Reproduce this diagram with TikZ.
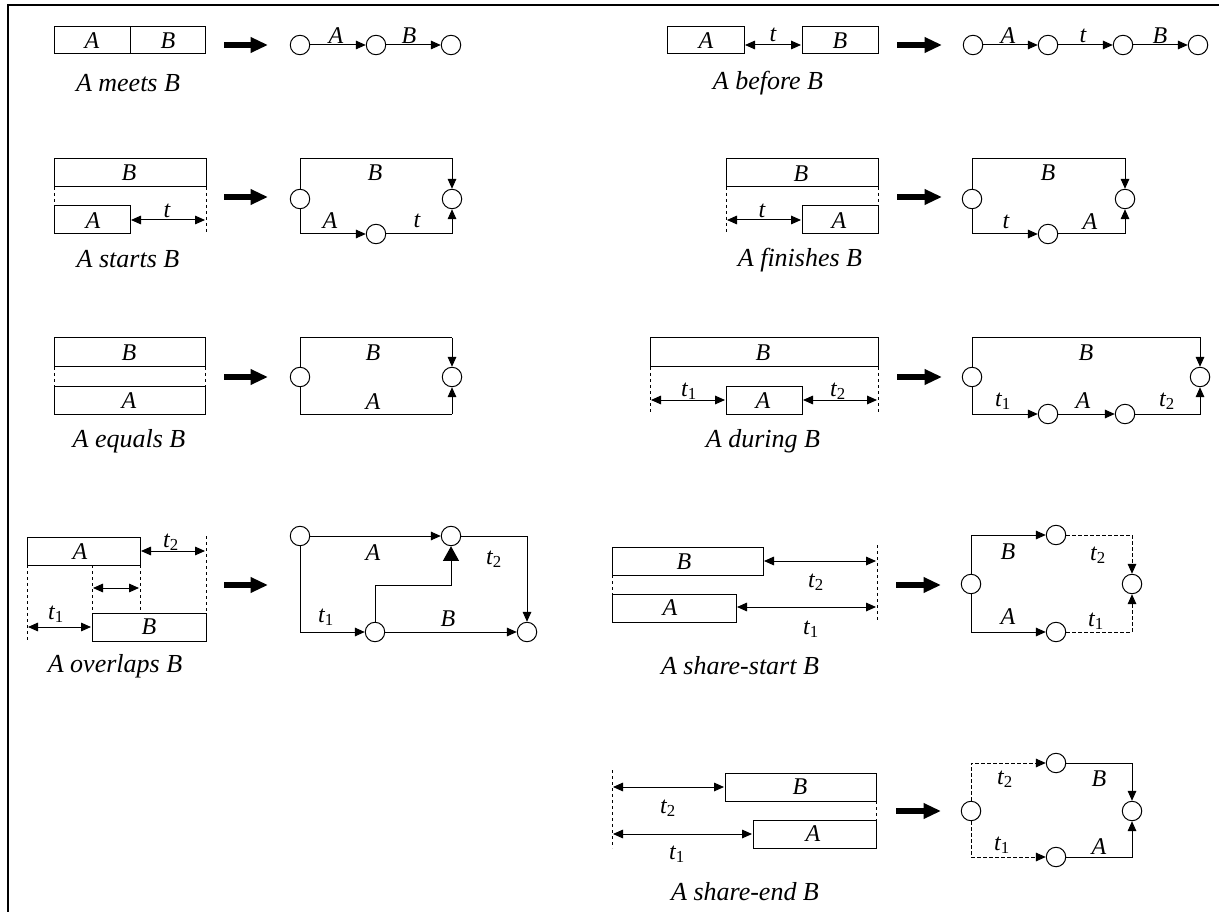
\documentclass[tikz,border=0pt]{standalone}
\usepackage{fontspec}
\setmainfont{Liberation Serif}
\usetikzlibrary{arrows.meta}

\newcommand{\tsub}[1]{\textit{t}\textsubscript{\upshape #1}}

\tikzset{
  ev/.style={circle, draw, minimum size=14.6pt, inner sep=0pt},
  lbl/.style={font=\fontsize{18}{21}\selectfont\itshape, inner sep=0pt},
  captxt/.style={font=\fontsize{19.5}{23}\selectfont\itshape, inner sep=0pt},
  arr/.style={-{Triangle[length=7.5pt,width=6.5pt]}},
  darr/.style={{Triangle[length=7.5pt,width=6.5pt]}-{Triangle[length=7.5pt,width=6.5pt]}},
  bigarr/.style={-{Triangle[length=11pt,width=12pt]}},
  fat/.style={line width=4.5pt, -{Triangle[length=13pt,width=11pt]}},
  vl/.style={dash pattern=on 2.5pt off 2pt},
}

\begin{document}
\begin{tikzpicture}[x=0.75pt, y=-0.75pt, line width=0.75pt]
    \useasboundingbox (0,0) rectangle (1219,912);
    \draw[line width=1.9pt] (8,912) -- (8,5) -- (1219,5); % frame

    % A meets B
    \draw (54,27) rectangle (205,54);
    \draw (130,27) -- (130,54);
    \node[lbl] (mA) at (92,41) {A};
    \node[lbl] (mB) at (168,41) {B};
    \node[captxt] (mcap) at (128,83) {A meets B};
    \draw[fat] (224,45) -- (268,45);
    \node[ev] (m1) at (300,45) {};
    \node[ev] (m2) at (376,45) {};
    \node[ev] (m3) at (451,45) {};
    \draw[arr] (m1) -- (m2);
    \draw[arr] (m2) -- (m3);
    \node[lbl] (mlA) at (336,36) {A};
    \node[lbl] (mlB) at (409,36) {B};

    % A before B
    \draw (667,27) rectangle (744,54);
    \draw (802,27) rectangle (878,54);
    \node[lbl] (bA) at (706,41) {A};
    \node[lbl] (bB) at (840,41) {B};
    \draw[darr] (745,45) -- (801,45);
    \node[lbl] (bt) at (773,35) {t};
    \node[captxt] (bcap) at (768,83) {A before B};
    \draw[fat] (897,45) -- (942,45);
    \node[ev] (b1) at (973,45) {};
    \node[ev] (b2) at (1048,45) {};
    \node[ev] (b3) at (1123,45) {};
    \node[ev] (b4) at (1198,45) {};
    \draw[arr] (b1) -- (b2);
    \draw[arr] (b2) -- (b3);
    \draw[arr] (b3) -- (b4);
    \node[lbl] (blA) at (1008,36) {A};
    \node[lbl] (blt) at (1083,36) {t};
    \node[lbl] (blB) at (1160,36) {B};

    % A starts B
    \draw (54,159) rectangle (206,187);
    \draw (54,206) rectangle (130,234);
    \draw[vl] (54,187) -- (54,206);
    \draw[vl] (206,187) -- (206,234);
    \node[lbl] (sB) at (129,173) {B};
    \node[lbl] (sA) at (93,221) {A};
    \draw[darr] (131,220) -- (205,220);
    \node[lbl] (st) at (167,211) {t};
    \node[captxt] (scap) at (128,259) {A starts B};
    \draw[fat] (224,197) -- (268,197);
    \node[ev] (s1) at (300,199) {};
    \node[ev] (s2) at (376,234) {};
    \node[ev] (s3) at (452,199) {};
    \coordinate (sTR) at (452,159);
    \draw[arr] (s1) |- (sTR) -- (s3);
    \draw[arr] (s1) |- (s2);
    \draw[arr] (s2) -| (s3);
    \node[lbl] (slB) at (375,173) {B};
    \node[lbl] (slA) at (330,221) {A};
    \node[lbl] (slt) at (417,221) {t};

    % A finishes B
    \draw (726,159) rectangle (878,187);
    \draw (802,206) rectangle (878,234);
    \draw[vl] (726,187) -- (726,234);
    \draw[vl] (878,187) -- (878,206);
    \node[lbl] (fB) at (801,174) {B};
    \node[lbl] (fA) at (839,221) {A};
    \draw[darr] (727,220) -- (801,220);
    \node[lbl] (ft) at (762,211) {t};
    \node[captxt] (fcap) at (800,260) {A finishes B};
    \draw[fat] (897,197) -- (942,197);
    \node[ev] (f1) at (972,199) {};
    \node[ev] (f2) at (1048,234) {};
    \node[ev] (f3) at (1125,199) {};
    \coordinate (fTR) at (1125,159);
    \draw[arr] (f1) |- (fTR) -- (f3);
    \draw[arr] (f1) |- (f2);
    \draw[arr] (f2) -| (f3);
    \node[lbl] (flB) at (1048,173) {B};
    \node[lbl] (flt) at (1006,222) {t};
    \node[lbl] (flA) at (1090,222) {A};

    % A equals B
    \draw (54,338) rectangle (205,367);
    \draw (54,386) rectangle (205,414);
    \draw[vl] (54,367) -- (54,386);
    \draw[vl] (205,367) -- (205,386);
    \node[lbl] (eB) at (129,353) {B};
    \node[lbl] (eA) at (129,401) {A};
    \node[captxt] (ecap) at (129,441) {A equals B};
    \draw[fat] (224,377) -- (268,377);
    \node[ev] (e1) at (300,377) {};
    \node[ev] (e2) at (452,377) {};
    \coordinate (eTR) at (452,338);
    \coordinate (eBR) at (452,414);
    \draw (e1) |- (eTR);
    \draw[arr] (eTR) -- (e2);
    \draw (e1) |- (eBR);
    \draw[arr] (eBR) -- (e2);
    \node[lbl] (elB) at (373,353) {B};
    \node[lbl] (elA) at (373,402) {A};

    % A during B
    \draw (650,338) rectangle (878,367);
    \draw (726,386) rectangle (802,414);
    \draw[vl] (650,367) -- (650,414);
    \draw[vl] (878,367) -- (878,414);
    \node[lbl] (dB) at (763,353) {B};
    \node[lbl] (dA) at (763,401) {A};
    \draw[darr] (651,400) -- (725,400);
    \draw[darr] (803,400) -- (877,400);
    \node[lbl] (dt1) at (689,391) {\tsub{1}};
    \node[lbl] (dt2) at (838,391) {\tsub{2}};
    \node[captxt] (dcap) at (763,441) {A during B};
    \draw[fat] (897,377) -- (942,377);
    \node[ev] (d1) at (972,377) {};
    \node[ev] (d2) at (1048,414) {};
    \node[ev] (d3) at (1125,414) {};
    \node[ev] (d4) at (1200,377) {};
    \coordinate (dTR) at (1200,338);
    \draw[arr] (d1) |- (dTR) -- (d4);
    \draw[arr] (d1) |- (d2);
    \draw[arr] (d2) -- (d3);
    \draw[arr] (d3) -| (d4);
    \node[lbl] (dlB) at (1086,353) {B};
    \node[lbl] (dlt1) at (1003,401) {\tsub{1}};
    \node[lbl] (dlA) at (1083,401) {A};
    \node[lbl] (dlt2) at (1167,401) {\tsub{2}};

    % A overlaps B
    \draw (27,537) rectangle (140,565);
    \draw (92,613) rectangle (206,641);
    \draw[vl] (27,565) -- (27,640);
    \draw[vl] (92,565) -- (92,613);
    \draw[vl] (140,565) -- (140,613);
    \draw[vl] (206,536) -- (206,613);
    \node[lbl] (oA) at (80,552) {A};
    \node[lbl] (oB) at (149,627) {B};
    \draw[darr] (141,551) -- (205,551);
    \draw[darr] (93,588) -- (139,588);
    \draw[darr] (28,627) -- (91,627);
    \node[lbl] (ot2) at (171,542) {\tsub{2}};
    \node[lbl] (ot1) at (56,614) {\tsub{1}};
    \node[captxt] (ocap) at (115,666) {A overlaps B};
    \draw[fat] (224,585) -- (268,585);
    \node[ev] (o1) at (300,536) {};
    \node[ev] (o2) at (451,536) {};
    \node[ev] (o3) at (375,632) {};
    \node[ev] (o4) at (527,632) {};
    \coordinate (oM) at (451,585);
    \draw[arr] (o1) -- (o2);
    \draw[arr] (o1) |- (o3);
    \draw[arr] (o3) -- (o4);
    \draw[arr] (o2) -| (o4);
    \draw[bigarr] (o3) |- (oM) -- (o2);
    \node[lbl] (olA) at (373,553) {A};
    \node[lbl] (olt2) at (494,559) {\tsub{2}};
    \node[lbl] (olt1) at (326,617) {\tsub{1}};
    \node[lbl] (olB) at (448,619) {B};

    % A share-start B
    \draw (612,547) rectangle (763,575);
    \draw (612,594) rectangle (736,622);
    \draw[vl] (612,575) -- (612,594);
    \draw[vl] (877,545) -- (877,622);
    \node[lbl] (ssB) at (684,562) {B};
    \node[lbl] (ssA) at (670,608) {A};
    \draw[darr] (764,561) -- (876,561);
    \draw[darr] (737,607) -- (876,607);
    \node[lbl] (sst2) at (816,582) {\tsub{2}};
    \node[lbl] (sst1) at (811,629) {\tsub{1}};
    \node[captxt] (sscap) at (740,666) {A share-start B};
    \draw[fat] (896,585) -- (941,585);
    \node[ev] (ss1) at (971,584) {};
    \node[ev] (ss2) at (1056,535) {};
    \node[ev] (ss3) at (1056,632) {};
    \node[ev] (ss4) at (1132,584) {};
    \draw[arr] (ss1) |- (ss2);
    \draw[arr] (ss1) |- (ss3);
    \draw[arr, vl] (ss2) -| (ss4);
    \draw[arr, vl] (ss3) -| (ss4);
    \node[lbl] (sslB) at (1008,552) {B};
    \node[lbl] (sslt2) at (1098,555) {\tsub{2}};
    \node[lbl] (sslA) at (1008,617) {A};
    \node[lbl] (sslt1) at (1096,621) {\tsub{1}};

    % A share-end B
    \draw (725,773) rectangle (876,801);
    \draw (753,820) rectangle (876,848);
    \draw[vl] (612,770) -- (612,848);
    \draw[vl] (876,801) -- (876,820);
    \node[lbl] (seB) at (800,787) {B};
    \node[lbl] (seA) at (813,834) {A};
    \draw[darr] (613,787) -- (724,787);
    \draw[darr] (613,834) -- (752,834);
    \node[lbl] (set2) at (668,808) {\tsub{2}};
    \node[lbl] (set1) at (677,854) {\tsub{1}};
    \node[captxt] (secap) at (745,892) {A share-end B};
    \draw[fat] (896,811) -- (941,811);
    \node[ev] (se1) at (971,811) {};
    \node[ev] (se2) at (1056,763) {};
    \node[ev] (se3) at (1056,857) {};
    \node[ev] (se4) at (1132,811) {};
    \draw[arr, vl] (se1) |- (se2);
    \draw[arr, vl] (se1) |- (se3);
    \draw[arr] (se2) -| (se4);
    \draw[arr] (se3) -| (se4);
    \node[lbl] (selt2) at (1005,779) {\tsub{2}};
    \node[lbl] (selB) at (1099,779) {B};
    \node[lbl] (selt1) at (1002,845) {\tsub{1}};
    \node[lbl] (selA) at (1099,847) {A};
\end{tikzpicture}
\end{document}
